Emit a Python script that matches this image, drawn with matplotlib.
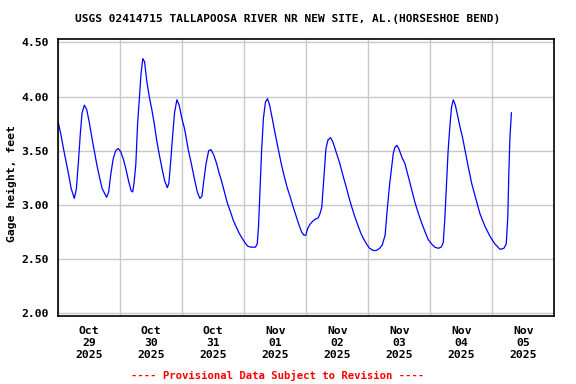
import numpy as np
import pandas as pd
import matplotlib
matplotlib.use("Agg")
import matplotlib.pyplot as plt
import matplotlib.dates as mdates

# hours since 2025-10-29 00:00 and gage height (ft)
hours = [
    0.0, 1.0, 2.0, 3.0, 4.0, 5.0, 6.2, 7.0, 7.8, 8.5, 9.2, 10.1, 11.0, 12.0,
    13.0, 14.0, 15.0, 16.0, 17.0, 18.7, 19.5, 20.3, 21.2, 22.2, 23.2, 24.2,
    25.2, 26.2, 27.2, 28.2, 28.8, 29.3, 30.0, 30.7, 31.3, 32.0, 32.7, 33.4,
    34.2, 35.2, 36.2, 37.2, 38.2, 39.2, 40.2, 41.2, 42.2, 42.8, 43.5, 44.3,
    45.0, 45.9, 46.8, 47.8, 48.9, 50.3, 51.5, 52.7, 53.8, 54.8, 55.6, 56.3,
    57.2, 58.2, 59.1, 60.2, 61.3, 62.3, 63.2, 64.3, 65.4, 66.6, 67.7, 68.8,
    70.0, 71.2, 72.3, 73.3, 74.5, 76.3, 77.0, 77.5, 78.0, 78.7, 79.4, 80.2,
    81.0, 81.8, 82.8, 84.0, 85.2, 86.3, 87.5, 88.6, 89.7, 90.8, 92.0, 93.1,
    94.2, 95.1, 95.8, 96.5, 97.4, 98.5, 99.6, 100.6, 101.3, 102.0, 102.8,
    103.6, 104.4, 105.4, 106.3, 107.5, 109.0, 110.2, 111.4, 112.5, 113.6,
    114.8, 116.0, 117.1, 118.1, 119.3, 120.5, 121.9, 123.2, 124.4, 125.4,
    126.0, 126.5, 127.3, 128.3, 129.7, 130.3, 131.0, 131.8, 133.0, 134.2,
    135.5, 136.8, 138.1, 139.4, 140.7, 142.0, 143.2, 144.5, 145.7, 147.1,
    148.2, 149.0, 149.6, 150.3, 150.9, 151.5, 152.2, 152.9, 153.7, 154.6,
    155.5, 156.5, 157.4, 158.7, 160.0, 161.6, 163.2, 165.2, 167.1, 169.0,
    171.0, 172.5, 173.4, 174.0, 174.4, 174.8, 175.4,
]
gage_ft = [
    3.76, 3.65, 3.52, 3.40, 3.28, 3.15, 3.06, 3.15, 3.40, 3.65, 3.85, 3.92, 3.88, 3.76,
    3.62, 3.49, 3.36, 3.25, 3.15, 3.07, 3.12, 3.28, 3.42, 3.50, 3.52, 3.49,
    3.42, 3.33, 3.22, 3.13, 3.12, 3.20, 3.37, 3.75, 3.96, 4.20, 4.35, 4.32,
    4.15, 4.00, 3.88, 3.74, 3.58, 3.45, 3.33, 3.22, 3.16, 3.20, 3.40, 3.65,
    3.85, 3.97, 3.92, 3.80, 3.70, 3.51, 3.38, 3.24, 3.12, 3.06, 3.08, 3.22,
    3.38, 3.50, 3.51, 3.46, 3.38, 3.29, 3.22, 3.12, 3.02, 2.94, 2.86, 2.80,
    2.74, 2.69, 2.65, 2.62, 2.61, 2.61, 2.64, 2.80, 3.10, 3.50, 3.80, 3.95,
    3.98, 3.92, 3.80, 3.65, 3.51, 3.38, 3.26, 3.16, 3.08, 2.99, 2.90, 2.82,
    2.75, 2.72, 2.72, 2.78, 2.82, 2.85, 2.87, 2.88, 2.92, 2.98, 3.25,
    3.52, 3.60, 3.62, 3.58, 3.49, 3.38, 3.27, 3.17, 3.07, 2.98,
    2.89, 2.81, 2.74, 2.69, 2.64, 2.60, 2.58, 2.58, 2.60, 2.63,
    2.68, 2.72, 2.95, 3.20, 3.48, 3.53, 3.55, 3.52, 3.44, 3.38,
    3.26, 3.14, 3.02, 2.92, 2.83, 2.75, 2.68, 2.64, 2.61, 2.60,
    2.61, 2.65, 2.86, 3.20, 3.50, 3.70, 3.90, 3.97, 3.92, 3.82,
    3.72, 3.62, 3.51, 3.35, 3.20, 3.06, 2.92, 2.80, 2.71, 2.64,
    2.59, 2.60, 2.64, 2.89, 3.29, 3.61, 3.85,
]
start = pd.Timestamp("2025-10-29 00:00")
end = pd.Timestamp("2025-11-06 00:00")
yticks = [2.00, 2.50, 3.00, 3.50, 4.00, 4.50]

times = start + pd.to_timedelta(hours, unit="h")

mono = "DejaVu Sans Mono"
fig = plt.figure(figsize=(5.76, 3.84), dpi=100)
ax = fig.add_axes([58.3 / 576, 68 / 384, 496 / 576, 276.7 / 384])

ax.plot(times, gage_ft, color="#0000FF", linewidth=0.9)

ax.set_xlim(start, end)
ax.set_ylim(1.975, 4.528)
ax.set_yticks(yticks)
ax.set_yticklabels([f"{v:.2f}" for v in yticks])

ax.xaxis.set_major_locator(mdates.DayLocator())
ax.xaxis.set_major_formatter(plt.NullFormatter())
ax.xaxis.set_minor_locator(mdates.HourLocator(byhour=[12]))
ax.xaxis.set_minor_formatter(mdates.DateFormatter("%b\n%d\n%Y"))

ax.grid(True, which="major", color="#C8C8C8", linewidth=1.0)
ax.set_axisbelow(True)
ax.tick_params(which="both", length=0)
ax.tick_params(axis="x", which="minor", pad=7)
ax.tick_params(axis="y", pad=7)
for lab in ax.get_xticklabels(minor=True) + ax.get_yticklabels():
    lab.set_fontfamily(mono)
    lab.set_fontweight("bold")
    lab.set_fontsize(8.2)
    lab.set_linespacing(1.25)
for s in ax.spines.values():
    s.set_color("black")
    s.set_linewidth(1.2)

fig.text(0.5, 1 - 19 / 384, "USGS 02414715 TALLAPOOSA RIVER NR NEW SITE, AL.(HORSESHOE BEND)",
         ha="center", va="center", fontfamily=mono, fontweight="bold", fontsize=8)
fig.text(11.5 / 576, 1 - 184 / 384, "Gage height, feet", rotation=90,
         ha="center", va="center", fontfamily=mono, fontweight="bold", fontsize=8.2)
fig.text(277.5 / 576, 1 - 375 / 384, "---- Provisional Data Subject to Revision ----",
         ha="center", va="center", fontfamily=mono, fontweight="bold", fontsize=7.7,
         color="#FF0000")

fig.savefig("out.png", dpi=100)
